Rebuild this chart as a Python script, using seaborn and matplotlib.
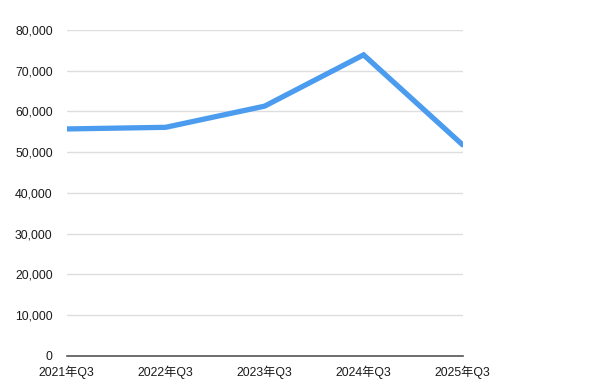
import matplotlib
matplotlib.use("Agg")
import matplotlib.pyplot as plt
import matplotlib.ticker as mticker
import seaborn as sns
import pandas as pd

quarters = ["2021年Q3", "2022年Q3", "2023年Q3", "2024年Q3", "2025年Q3"]
values = [55700, 56100, 61300, 73900, 51800]
yticks = [0, 10000, 20000, 30000, 40000, 50000, 60000, 70000, 80000]

sns.set_theme(style="white")
plt.rcParams['font.family'] = ['Liberation Sans', 'Noto Sans CJK SC', 'DejaVu Sans']

df = pd.DataFrame({"quarter": quarters, "value": values})

fig = plt.figure(figsize=(6, 3.9), dpi=100)
ax = fig.add_axes([0.111, 0.088, 0.66, 0.835])

sns.lineplot(data=df, x="quarter", y="value", ax=ax, color="#4b9cef",
             linewidth=3.8, sort=False, solid_joinstyle="miter")

ax.set_xlim(0, len(quarters) - 1)
ax.set_ylim(0, 80000)
ax.set_yticks(yticks)
ax.yaxis.set_major_formatter(mticker.FuncFormatter(lambda v, p: f"{int(v):,}"))
ax.grid(axis="y", color="#dedede", linewidth=1.0)
ax.set_axisbelow(True)
for s in ["top", "right", "left"]:
    ax.spines[s].set_visible(False)
ax.spines["bottom"].set_color("#555555")
ax.spines["bottom"].set_linewidth(1.2)
ax.spines["bottom"].set_zorder(3)
ax.tick_params(axis="both", length=0, labelsize=8.8, colors="#1a1a1a")
ax.tick_params(axis="y", pad=10)
ax.tick_params(axis="x", pad=7)
ax.set_xlabel("")
ax.set_ylabel("")

fig.savefig("out.png", dpi=100)
